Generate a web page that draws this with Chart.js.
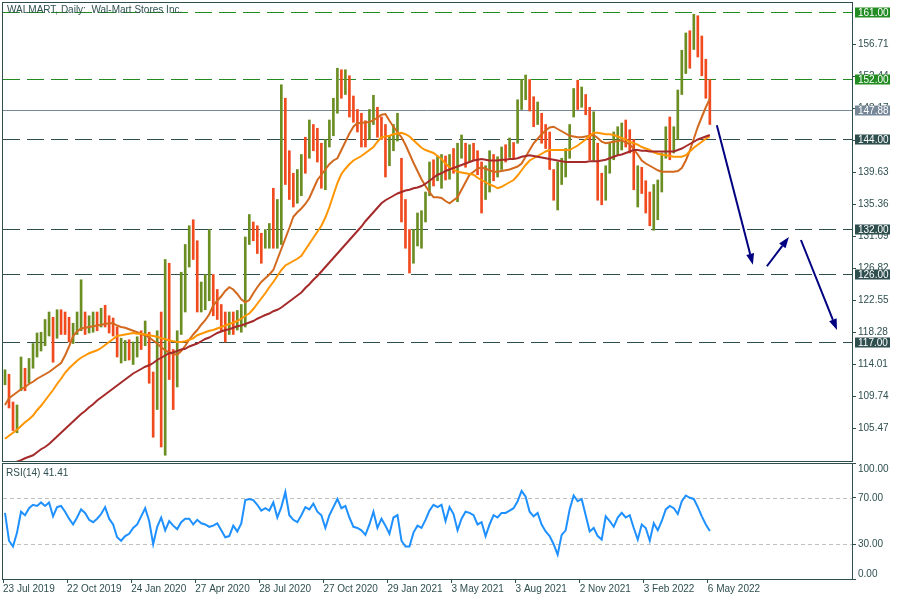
<!DOCTYPE html>
<html>
<head>
<meta charset="utf-8">
<title>WALMART Daily</title>
<script src="https://cdn.jsdelivr.net/npm/chart.js@4.4.1/dist/chart.umd.min.js"></script>
<style>
  html, body { margin:0; padding:0; background:#ffffff; }
  body { width:900px; height:600px; position:relative; overflow:hidden; }
  canvas { position:absolute; left:0; }
  #priceCanvas { top:0; }
  #rsiCanvas { top:462px; }
</style>
</head>
<body>
<canvas id="priceCanvas" width="900" height="462"></canvas>
<canvas id="rsiCanvas" width="900" height="138"></canvas>
<script>
// ---------------- data (one slot = 4 trading days) ----------------
const chartTitle = 'WALMART, Daily:  Wal-Mart Stores Inc.';
const dateLabels = ['23 Jul 2019','22 Oct 2019','24 Jan 2020','27 Apr 2020','28 Jul 2020','27 Oct 2020',
                    '29 Jan 2021','3 May 2021','3 Aug 2021','2 Nov 2021','3 Feb 2022','6 May 2022'];
const dateSlots = [0,16,32,48,64,80,96,112,128,144,160,176];
const totalSlots = 212;
const priceTicks = [105.47,109.74,114.01,118.28,122.55,126.82,131.09,135.36,139.63,143.90,148.17,152.44,156.71];
const priceMin = 101.1333, priceMax = 162.2;

const highs = [113.3,112.7,109.0,108.6,115.0,113.5,114.8,116.8,118.2,118.3,
 120.0,121.0,120.3,121.3,121.3,121.0,120.3,119.5,121.0,125.3,
 121.0,120.5,121.0,121.0,121.5,121.9,120.5,120.2,119.0,117.5,
 117.2,117.3,117.0,117.7,118.5,119.8,118.3,113.0,118.5,121.0,
 128.0,127.5,116.0,118.5,126.3,130.0,132.5,133.3,130.5,125.0,
 126.0,132.0,126.0,124.0,122.0,121.0,121.0,121.0,121.2,122.0,
 131.0,134.0,133.0,132.5,131.5,132.0,132.8,137.5,136.0,151.3,
 149.5,142.5,139.5,140.0,142.0,144.3,146.6,146.0,145.5,143.5,
 144.0,146.6,149.5,153.5,153.3,153.3,152.5,149.8,148.0,147.5,
 146.5,148.0,149.9,148.3,147.0,146.0,144.5,146.0,147.5,141.5,
 136.0,132.0,132.0,134.2,134.5,137.0,141.0,141.3,141.8,142.0,
 141.8,142.0,142.8,143.5,144.6,143.5,143.3,143.5,142.5,141.0,
 140.5,142.5,142.0,141.7,143.0,143.3,144.2,143.6,149.3,152.0,
 152.6,152.0,149.7,149.0,147.5,146.0,145.0,140.0,141.0,141.5,
 142.8,146.0,150.8,151.9,151.0,150.0,148.3,147.7,143.5,139.5,
 140.5,143.5,145.0,145.7,146.2,146.6,145.3,144.0,140.5,140.3,
 138.5,137.0,138.0,138.6,142.2,145.7,147.0,145.7,150.6,155.9,
 158.2,158.5,160.7,160.5,157.8,154.7,152.0];

const lows = [111.3,108.2,105.2,104.9,110.5,110.5,111.5,113.5,115.0,115.8,
 116.5,117.8,114.3,117.5,118.0,118.0,117.0,116.8,118.0,118.5,
 118.0,118.2,118.3,118.5,119.0,119.0,118.2,117.8,115.0,114.2,
 114.5,114.6,114.0,115.0,116.0,116.5,111.5,104.3,108.0,103.0,
 101.9,112.0,108.0,111.0,118.0,121.0,127.0,128.0,121.0,121.0,
 121.3,122.5,120.5,120.0,118.5,117.0,118.0,118.0,118.6,118.3,
 119.0,130.0,130.5,128.8,127.5,129.5,129.5,129.5,129.5,130.0,
 138.0,136.0,135.0,135.5,136.5,139.5,141.5,142.5,141.0,137.5,
 137.3,143.0,144.5,147.5,149.5,150.0,147.0,146.3,145.0,143.0,
 143.0,144.0,146.0,144.3,144.0,139.0,140.5,142.5,143.8,133.0,
 129.5,126.2,127.5,129.8,129.5,133.0,136.5,137.8,138.5,137.5,
 138.6,138.7,139.5,135.7,141.5,140.3,141.0,141.3,139.3,134.2,
 136.0,137.0,138.5,139.0,140.0,141.0,141.6,141.5,143.5,148.0,
 149.3,147.8,145.7,146.0,143.5,142.8,140.0,135.9,134.6,138.0,
 139.0,141.5,147.0,148.0,148.3,147.3,141.3,141.2,135.9,135.3,
 135.9,139.5,141.3,142.0,142.6,143.0,142.2,137.3,135.0,136.8,
 134.2,132.5,131.9,133.3,137.0,141.5,141.3,142.2,144.0,150.0,
 152.8,153.5,156.0,155.0,152.5,149.5,146.0];

const closes = [112.8,108.8,107.0,107.8,112.5,111.5,114.0,115.5,116.8,117.5,
 119.2,119.5,118.5,120.5,119.8,119.0,117.8,118.5,120.0,120.0,
 119.0,119.5,120.5,119.8,121.0,120.0,119.3,119.0,115.8,116.0,
 116.5,115.5,116.0,117.2,117.0,118.5,112.0,105.5,116.0,104.5,
 118.0,113.5,112.0,117.5,121.0,128.0,131.5,130.0,123.0,123.5,
 124.0,124.5,123.0,121.5,120.0,119.0,120.0,119.0,120.5,121.5,
 129.5,132.0,131.5,129.5,129.0,130.5,131.0,130.0,131.0,148.0,
 140.0,138.0,136.0,137.5,141.0,140.5,145.5,143.5,142.0,139.0,
 142.0,145.5,148.5,152.0,151.0,152.0,148.0,147.5,146.0,145.5,
 144.0,147.0,148.0,145.5,145.0,141.0,143.0,145.0,146.0,134.0,
 130.5,128.5,131.0,132.0,133.5,136.0,140.0,139.0,140.5,141.0,
 140.0,141.5,141.0,142.0,143.0,141.5,142.5,142.0,140.0,136.5,
 139.0,140.0,139.5,140.5,142.5,142.0,143.5,143.0,148.5,150.0,
 150.5,149.0,147.0,148.0,144.5,144.0,141.0,137.0,138.0,140.5,
 142.0,145.5,150.0,149.0,150.0,148.0,142.0,143.0,137.0,136.0,
 139.5,142.5,143.5,144.0,145.0,144.0,143.0,138.0,139.0,138.0,
 135.0,133.0,135.0,137.5,141.5,144.0,143.0,144.5,150.0,155.0,
 157.0,155.0,159.5,156.0,153.5,151.0,147.88];

const ma200 = [100.4,100.6,100.85,101.05,101.25,101.5,101.7,101.9,102.3,102.7,
 103.0,103.4,103.9,104.4,104.9,105.4,105.9,106.4,106.9,107.4,
 107.8,108.3,108.7,109.2,109.6,110.0,110.4,110.8,111.2,111.6,
 112.0,112.4,112.8,113.1,113.4,113.7,113.9,114.2,114.6,114.9,
 115.2,115.5,115.6,115.8,116.0,116.1,116.4,116.6,116.8,117.1,
 117.4,117.6,117.9,118.2,118.4,118.6,118.7,118.9,119.1,119.2,
 119.4,119.6,119.8,120.1,120.35,120.6,120.8,121.1,121.3,121.6,
 122.0,122.4,122.8,123.2,123.6,124.2,124.7,125.3,125.8,126.4,
 127.0,127.6,128.2,128.8,129.4,130.0,130.6,131.2,131.8,132.4,
 133.1,133.7,134.3,134.9,135.5,135.9,136.2,136.5,136.8,137.0,
 137.2,137.3,137.5,137.6,137.8,138.1,138.5,138.9,139.3,139.5,
 139.8,140.0,140.2,140.4,140.6,140.8,141.0,141.2,141.3,141.4,
 141.3,141.2,141.2,141.2,141.3,141.3,141.4,141.4,141.5,141.7,
 141.8,141.9,141.8,141.7,141.6,141.5,141.4,141.3,141.2,141.1,
 141.0,141.0,141.0,141.0,141.0,141.0,141.1,141.1,141.1,141.2,
 141.3,141.5,141.7,141.9,142.0,142.2,142.4,142.6,142.6,142.5,
 142.5,142.4,142.4,142.4,142.4,142.4,142.4,142.4,142.6,142.8,
 143.1,143.4,143.7,144.0,144.2,144.4,144.6];

const ma100 = [104.1,104.5,104.9,105.3,105.8,106.3,106.7,107.2,107.9,108.5,
 109.2,109.9,110.6,111.4,112.1,112.9,113.5,114.0,114.5,114.9,
 115.2,115.5,115.7,115.9,116.2,116.6,117.0,117.4,117.8,117.9,
 118.0,118.1,118.2,118.1,118.1,118.0,117.9,117.8,117.7,117.5,
 117.4,117.2,117.1,117.0,117.0,117.1,117.3,117.5,117.9,118.1,
 118.3,118.5,118.6,118.8,119.0,119.2,119.4,119.6,119.8,120.1,
 120.5,120.8,121.4,122.1,122.8,123.5,124.3,125.0,125.8,126.6,
 127.2,127.5,127.8,128.1,128.5,129.3,130.1,130.9,131.7,132.5,
 133.6,135.0,136.6,138.2,139.4,140.1,140.7,141.2,141.5,141.8,
 142.2,142.6,143.0,143.7,144.3,144.4,144.5,144.7,144.8,144.9,
 144.7,144.4,143.9,143.4,142.9,142.6,142.4,142.2,141.8,141.4,
 140.8,140.3,140.0,139.7,139.6,139.5,139.4,139.3,138.9,138.6,
 138.3,138.0,137.8,137.5,137.7,138.0,138.3,138.6,139.2,139.9,
 140.6,141.2,141.5,141.8,142.1,142.4,142.6,142.6,142.6,142.6,
 142.6,142.6,142.9,143.2,143.6,144.0,144.5,144.9,144.9,144.8,
 144.7,144.7,144.6,144.4,144.2,144.0,143.7,143.5,143.3,143.0,
 142.8,142.6,142.3,142.1,142.0,141.9,141.8,141.7,141.7,141.7,
 141.9,142.4,142.9,143.3,143.7,144.1,144.4];

const ma50 = [108.6,109.5,109.9,110.3,110.7,111.0,111.4,111.7,112.1,112.4,
 112.7,113.0,113.4,113.8,114.2,115.2,116.4,117.8,118.4,118.8,
 118.9,119.0,119.1,119.2,119.3,119.4,119.5,119.5,119.2,119.0,
 118.9,118.7,118.5,118.3,118.1,117.9,117.6,117.2,116.8,116.3,
 115.9,115.6,115.4,115.3,115.8,116.5,117.3,118.0,118.6,119.3,
 119.9,120.7,121.9,122.5,123.1,123.8,124.3,124.0,123.4,122.7,
 122.3,122.6,123.5,124.3,125.0,125.5,126.0,126.6,128.0,129.4,
 130.8,132.2,133.7,134.3,134.8,135.4,136.2,137.4,138.6,139.3,
 140.0,140.7,141.2,141.5,142.6,143.7,144.8,145.7,146.2,146.2,
 146.3,146.3,146.6,146.9,147.3,147.4,146.5,145.7,145.0,144.3,
 143.3,142.1,140.9,139.8,138.7,137.8,137.0,136.3,136.3,136.2,
 135.8,135.5,135.9,136.3,137.3,138.3,139.3,139.7,140.1,140.3,
 140.1,139.9,139.7,139.7,139.8,139.9,140.0,140.2,140.4,140.8,
 141.7,142.6,143.5,144.1,144.7,145.2,145.6,145.7,145.4,145.1,
 144.8,144.5,144.4,144.3,144.3,144.4,144.5,144.6,144.2,143.7,
 143.5,143.6,143.7,143.8,143.9,143.6,143.4,142.7,142.0,141.2,
 140.8,140.5,140.2,139.9,139.7,139.7,139.7,139.7,139.8,140.2,
 141.2,142.5,144.1,145.7,147.0,148.3,149.4];

const rsi14 = [57,33,28,40,58,55,61,64,63,66,
 63,66,54,62,63,58,52,47,53,60,
 57,51,49,52,56,62,52,47,36,33,
 37,39,44,47,54,61,50,30,45,53,
 42,50,46,43,49,52,52,47,51,48,
 47,45,46,48,42,36,37,46,41,48,
 68,69,68,64,59,61,59,66,53,62,
 75,55,51,49,55,62,60,65,58,55,
 44,55,62,69,61,63,53,45,44,42,
 38,47,58,44,52,46,39,53,55,33,
 28,28,40,46,44,51,59,64,62,64,
 50,62,56,42,52,58,57,55,47,49,
 37,47,55,53,57,57,59,61,67,76,
 71,58,54,57,47,41,37,30,21,38,
 42,60,72,67,69,55,41,44,37,34,
 54,50,45,53,57,53,55,44,34,47,
 44,33,48,42,50,60,63,61,56,67,
 72,70,69,62,54,47,41.41];
const rsiLevels = [70, 30];
const rsiTicks = [0, 30, 70, 100];

const levelPrices = [161.00, 152.00, 147.88, 144.00, 132.00, 126.00, 117.00];
const levelKinds  = ['resistance','resistance','bid','support','support','support','support'];
// projected path: [fromSlot, fromPrice, toSlot, toPrice]
const forecastPath = [[178.25,145.9,187.25,127.3],[190.75,127.1,196.25,131.0],[199.25,130.6,208.25,118.6]];

// ---------------- styles ----------------
const INK = '#2f4f4f';
const FONT = '"Liberation Sans", Arial, sans-serif';
const FONT_SIZE = 10;
const UP = '#6b8e23', DOWN = '#f04a1e';
const levelStyle = { resistance:'#228b22', bid:'#778899', support:'#2f4f4f' };

Chart.defaults.font.family = FONT;
Chart.defaults.font.size = FONT_SIZE;
Chart.defaults.color = INK;

const slotX = i => i + 0.5;
const toXY = arr => arr.map((v, i) => ({ x: slotX(i), y: v }));
const candles = highs.map((h, i) => ({ x: slotX(i), y: [lows[i], h] }));
const candleColors = closes.map((c, i) => (i > 0 && c < closes[i - 1]) ? DOWN : UP);

// ---------------- plugins ----------------
const levelsPlugin = {
  id: 'levels',
  beforeDatasetsDraw(chart) {
    const { ctx, chartArea: a, scales: { y } } = chart;
    ctx.save();
    levelPrices.forEach((p, i) => {
      const py = Math.round(y.getPixelForValue(p)) + 0.5;
      ctx.strokeStyle = levelStyle[levelKinds[i]];
      ctx.lineWidth = 1;
      ctx.setLineDash(levelKinds[i] === 'bid' ? [] : [17, 7]);
      ctx.beginPath(); ctx.moveTo(a.left, py); ctx.lineTo(a.right, py); ctx.stroke();
    });
    ctx.restore();
  },
  afterDraw(chart) {
    const { ctx, chartArea: a, scales: { y } } = chart;
    ctx.save();
    ctx.font = FONT_SIZE + 'px ' + FONT;
    ctx.textBaseline = 'middle';
    ctx.textAlign = 'left';
    levelPrices.forEach((p, i) => {
      const py = Math.round(y.getPixelForValue(p)) + 0.5;
      ctx.fillStyle = levelStyle[levelKinds[i]];
      ctx.fillRect(a.right + 3, py - 5, 35, 10);
      ctx.fillStyle = '#ffffff';
      ctx.fillText(p.toFixed(2), a.right + 6, py + 0.5);
    });
    // frame
    ctx.strokeStyle = INK; ctx.lineWidth = 1; ctx.setLineDash([]);
    ctx.strokeRect(a.left - 0.5, a.top - 0.5, a.right - a.left + 1, a.bottom - a.top + 1);
    // title
    ctx.fillStyle = INK;
    ctx.textBaseline = 'alphabetic';
    ctx.fillText(chartTitle, a.left + 4, a.top + 10);
    ctx.restore();
  }
};

const arrowsPlugin = {
  id: 'arrows',
  afterDatasetsDraw(chart) {
    const { ctx, scales: { x, y } } = chart;
    ctx.save();
    ctx.strokeStyle = '#000080'; ctx.fillStyle = '#000080';
    ctx.lineWidth = 2; ctx.lineCap = 'butt';
    forecastPath.forEach(([s0, p0, s1, p1]) => {
      const x0 = x.getPixelForValue(s0), y0 = y.getPixelForValue(p0);
      const x1 = x.getPixelForValue(s1), y1 = y.getPixelForValue(p1);
      const ang = Math.atan2(y1 - y0, x1 - x0);
      const hl = 11, hw = 4;
      const bx = x1 - hl * Math.cos(ang), by = y1 - hl * Math.sin(ang);
      ctx.beginPath(); ctx.moveTo(x0, y0); ctx.lineTo(bx, by); ctx.stroke();
      ctx.beginPath();
      ctx.moveTo(x1, y1);
      ctx.lineTo(bx + hw * Math.sin(ang), by - hw * Math.cos(ang));
      ctx.lineTo(bx - hw * Math.sin(ang), by + hw * Math.cos(ang));
      ctx.closePath(); ctx.fill();
    });
    ctx.restore();
  }
};

const rsiPlugin = {
  id: 'rsiDecor',
  beforeDatasetsDraw(chart) {
    const { ctx, chartArea: a, scales: { y } } = chart;
    ctx.save();
    ctx.strokeStyle = '#c0c0c0'; ctx.lineWidth = 1; ctx.setLineDash([4, 3]);
    rsiLevels.forEach(v => {
      const py = Math.round(y.getPixelForValue(v)) + 0.5;
      ctx.beginPath(); ctx.moveTo(a.left, py); ctx.lineTo(a.right, py); ctx.stroke();
    });
    ctx.restore();
  },
  afterDraw(chart) {
    const { ctx, chartArea: a, scales: { y } } = chart;
    ctx.save();
    ctx.strokeStyle = INK; ctx.lineWidth = 1;
    ctx.strokeRect(a.left - 0.5, a.top + 0.5, a.right - a.left + 1, a.bottom - a.top);
    ctx.font = FONT_SIZE + 'px ' + FONT;
    ctx.fillStyle = INK;
    ctx.textAlign = 'left';
    ctx.textBaseline = 'alphabetic';
    ctx.fillText('RSI(14) ' + rsi14[rsi14.length - 1].toFixed(2), a.left + 3, a.top + 13);
    ctx.textBaseline = 'middle';
    rsiTicks.forEach(v => {
      let py = y.getPixelForValue(v);
      py = Math.min(Math.max(py, a.top + 6), a.bottom - 5);
      ctx.fillText(v.toFixed(2), a.right + 6, py);
    });
    ctx.restore();
  }
};

// ---------------- price chart ----------------
new Chart(document.getElementById('priceCanvas'), {
  type: 'bar',
  data: {
    datasets: [
      { type: 'line', label: 'MA200', data: toXY(ma200), borderColor: '#a52a2a', borderWidth: 2, pointRadius: 0, tension: 0, order: 1 },
      { type: 'line', label: 'MA100', data: toXY(ma100), borderColor: '#ff9500', borderWidth: 2, pointRadius: 0, tension: 0, order: 2 },
      { type: 'line', label: 'MA50',  data: toXY(ma50),  borderColor: '#d2691e', borderWidth: 2, pointRadius: 0, tension: 0, order: 3 },
      { type: 'bar', label: 'WALMART', data: candles, backgroundColor: candleColors, borderWidth: 0, barThickness: 2, grouped: false, order: 10 }
    ]
  },
  options: {
    responsive: false, maintainAspectRatio: false, animation: false, devicePixelRatio: 1,
    events: [],
    layout: { padding: { left: 3, top: 3, right: 0, bottom: 1 } },
    plugins: { legend: { display: false }, tooltip: { enabled: false }, title: { display: false } },
    scales: {
      x: { type: 'linear', min: 0, max: totalSlots, offset: false, display: false },
      y: {
        type: 'linear', position: 'right', min: priceMin, max: priceMax,
        afterBuildTicks(s) { s.ticks = priceTicks.map(v => ({ value: v })); },
        afterFit(s) { s.width = 48; s.paddingTop = 0; s.paddingBottom = 0; },
        ticks: { padding: 2, color: INK, autoSkip: false, callback: v => Number(v).toFixed(2) },
        grid: { drawOnChartArea: false, drawTicks: true, tickLength: 4, color: INK },
        border: { display: false }
      }
    }
  },
  plugins: [levelsPlugin, arrowsPlugin]
});

// ---------------- RSI chart ----------------
new Chart(document.getElementById('rsiCanvas'), {
  type: 'line',
  data: { datasets: [{ label: 'RSI(14)', data: toXY(rsi14), borderColor: '#1e90ff', borderWidth: 2, pointRadius: 0, tension: 0 }] },
  options: {
    responsive: false, maintainAspectRatio: false, animation: false, devicePixelRatio: 1,
    events: [],
    layout: { padding: { left: 3, top: 1, right: 0, bottom: 0 } },
    plugins: { legend: { display: false }, tooltip: { enabled: false } },
    scales: {
      x: {
        type: 'linear', min: 0, max: totalSlots, offset: false,
        afterBuildTicks(s) { s.ticks = dateSlots.map(v => ({ value: v })); },
        afterFit(s) { s.height = 21; s.paddingLeft = 0; s.paddingRight = 0; },
        ticks: { align: 'start', autoSkip: false, maxRotation: 0, minRotation: 0, padding: 0, color: INK,
                 callback: (v, i) => dateLabels[i] },
        grid: { drawOnChartArea: false, drawTicks: true, tickLength: 4, color: INK },
        border: { display: false }
      },
      y: {
        type: 'linear', position: 'right', min: 0, max: 100,
        afterBuildTicks(s) { s.ticks = rsiTicks.map(v => ({ value: v })); },
        afterFit(s) { s.width = 48; s.paddingTop = 0; s.paddingBottom = 0; },
        ticks: { color: 'rgba(0,0,0,0)', padding: 2 },
        grid: { drawOnChartArea: false, drawTicks: true, tickLength: 4, color: INK },
        border: { display: false }
      }
    }
  },
  plugins: [rsiPlugin]
});
</script>
</body>
</html>
